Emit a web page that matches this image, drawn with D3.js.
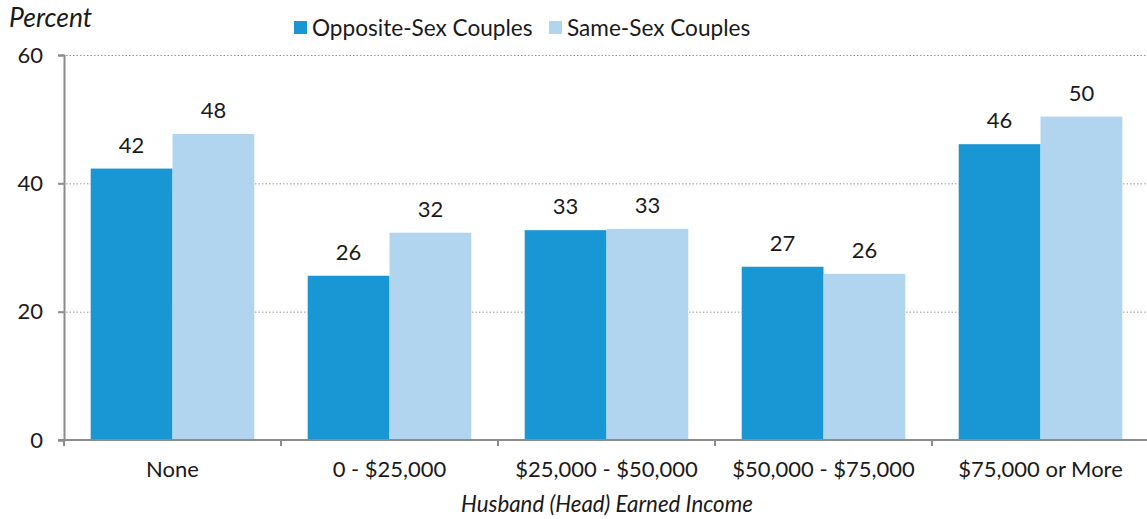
<!DOCTYPE html>
<html>
<head>
<meta charset="utf-8">
<script src="https://cdn.jsdelivr.net/npm/d3@7"></script>
<style>
body { margin:0; background:#fff; }
svg { font-family: Lato, "Open Sans", sans-serif; }
</style>
</head>
<body>
<div id="Main_Part"></div>
<script>
var Categories = ["None", "0 - $25,000", "$25,000 - $50,000", "$50,000 - $75,000", "$75,000 or More"];
var SeriesNames = ["Opposite-Sex Couples", "Same-Sex Couples"];
var OppositeValues = [42.3, 25.6, 32.7, 27.0, 46.1];
var SameValues = [47.7, 32.3, 32.9, 25.9, 50.4];
var YTicks = [0, 20, 40, 60];
var SeriesColors = ["#1996d4", "#b1d5ef"];

var Width = 1147, Height = 519;
var Left = 64, Right = 1149, Top = 55, Bottom = 440;
var FontSize = 22;

var svg = d3.select('#Main_Part')
	.append("svg")
	.attr("width", Width)
	.attr("height", Height);

var x = d3.scaleBand()
	.domain(Categories)
	.range([Left, Right])
	.paddingInner(0.246)
	.paddingOuter(0.123);

var xTick = d3.scaleBand().domain(Categories).range([Left, Right]);

var xSub = d3.scaleBand()
	.domain(SeriesNames)
	.range([0, x.bandwidth()]);

var y = d3.scaleLinear()
	.domain([0, 60])
	.range([Bottom, Top]);

// gridlines
svg.append("g")
	.selectAll("line")
	.data(YTicks.filter(function(d){ return d > 0; }))
	.enter()
	.append("line")
	.attr("x1", Left + 2)
	.attr("x2", Width)
	.attr("y1", function(d){ return y(d) + 0.5; })
	.attr("y2", function(d){ return y(d) + 0.5; })
	.style("stroke", "#999")
	.style("stroke-width", 1)
	.style("stroke-dasharray", "1.5,2");

// bars
var Rows = Categories.map(function(c, i){
	return { cat: c, values: [OppositeValues[i], SameValues[i]] };
});

var groups = svg.append("g")
	.selectAll("g")
	.data(Rows)
	.enter()
	.append("g")
	.attr("transform", function(d){ return "translate(" + x(d.cat) + ",0)"; });

groups.selectAll("rect")
	.data(function(d){ return d.values.map(function(v, j){ return { name: SeriesNames[j], value: v, idx: j }; }); })
	.enter()
	.append("rect")
	.attr("x", function(d){ return xSub(d.name); })
	.attr("width", xSub.bandwidth())
	.attr("y", function(d){ return y(d.value); })
	.attr("height", function(d){ return Bottom - y(d.value); })
	.style("fill", function(d){ return SeriesColors[d.idx]; });

groups.selectAll("text")
	.data(function(d){ return d.values.map(function(v, j){ return { name: SeriesNames[j], value: v }; }); })
	.enter()
	.append("text")
	.attr("x", function(d){ return xSub(d.name) + xSub.bandwidth() / 2; })
	.attr("y", function(d){ return y(d.value) - 16; })
	.attr("text-anchor", "middle")
	.text(function(d){ return Math.round(d.value); })
	.style("font-size", FontSize + "px")
	.style("fill", "#1a1a1a");

// y axis
var yAxis = svg.append("g")
	.attr("transform", "translate(" + Left + ",0)")
	.call(d3.axisLeft(y).tickValues(YTicks).tickSize(6).tickPadding(15));
yAxis.select(".domain").style("stroke", "#8c8c8c").style("stroke-width", 2);
yAxis.selectAll(".tick line").style("stroke", "#8c8c8c").style("stroke-width", 2);
yAxis.selectAll(".tick text")
	.style("font-size", FontSize + "px")
	.style("font-family", "Lato, sans-serif")
	.style("fill", "#1a1a1a");

// x axis
var xAxis = svg.append("g")
	.attr("transform", "translate(0," + Bottom + ")")
	.call(d3.axisBottom(xTick).tickSize(0).tickPadding(21));
xAxis.select(".domain").remove();
xAxis.selectAll(".tick text")
	.style("font-size", FontSize + "px")
	.style("font-family", "Lato, sans-serif")
	.style("fill", "#1a1a1a");

xAxis.append("line")
	.attr("x1", Left - 6)
	.attr("x2", Width)
	.attr("y1", 0)
	.attr("y2", 0)
	.style("stroke", "#8c8c8c")
	.style("stroke-width", 2);

xAxis.selectAll(".sep")
	.data(Categories)
	.enter()
	.append("line")
	.attr("class", "sep")
	.attr("x1", function(d){ return xTick(d); })
	.attr("x2", function(d){ return xTick(d); })
	.attr("y1", 0)
	.attr("y2", 6)
	.style("stroke", "#8c8c8c")
	.style("stroke-width", 2);

// titles
svg.append("text")
	.attr("x", 9)
	.attr("y", 27)
	.text("Percent")
	.style("font-size", "26.5px")
	.style("font-style", "italic")
	.style("fill", "#1a1a1a");

svg.append("text")
	.attr("x", 607)
	.attr("y", 512)
	.attr("text-anchor", "middle")
	.text("Husband (Head) Earned Income")
	.style("font-size", "22.3px")
	.style("font-style", "italic")
	.style("fill", "#1a1a1a");

// legend
var LegendX = [294, 549];
var legend = svg.append("g")
	.selectAll("g")
	.data(SeriesNames)
	.enter()
	.append("g")
	.attr("transform", function(d, i){ return "translate(" + LegendX[i] + ",21)"; });

legend.append("rect")
	.attr("width", 13)
	.attr("height", 13)
	.style("fill", function(d, i){ return SeriesColors[i]; });

legend.append("text")
	.attr("x", 18)
	.attr("y", 15)
	.text(function(d){ return d; })
	.style("font-size", "22.6px")
	.style("fill", "#1a1a1a");
</script>
</body>
</html>
